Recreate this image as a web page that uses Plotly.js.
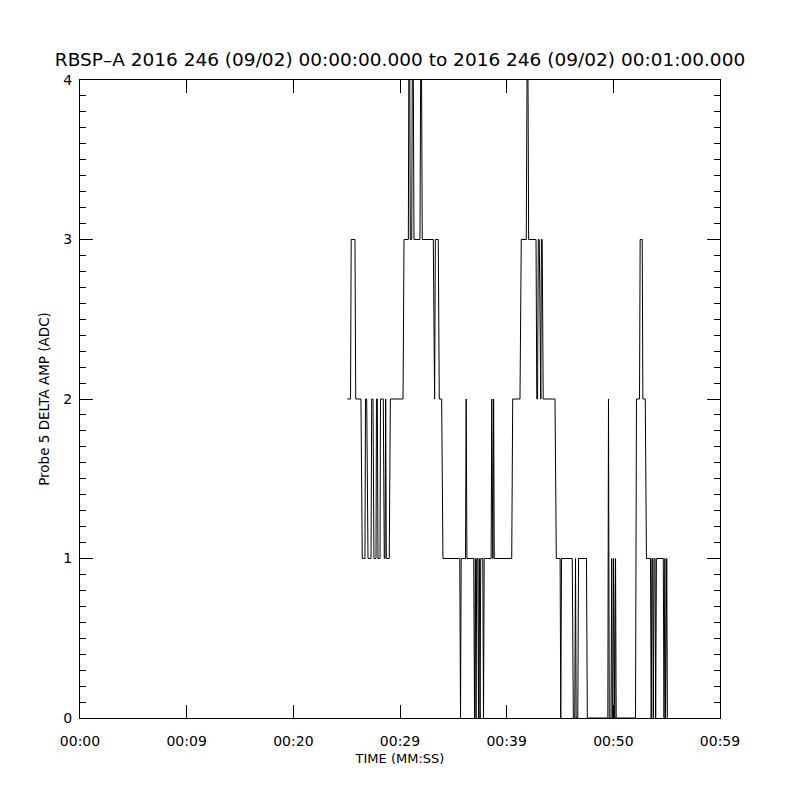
<!DOCTYPE html>
<html>
<head>
<meta charset="utf-8">
<script src="https://cdn.plot.ly/plotly-3.0.1.min.js"></script>
<style>html,body{margin:0;padding:0;background:#fff;}#chart{width:800px;height:800px;}</style>
</head>
<body>
<div id="chart"></div>
<script>
// Vertices of the probe trace (time in seconds, amplitude in ADC)
const timeSec = [
  24.64,24.94,25.00,25.35,25.42,25.90,26.02,26.27,26.32,26.43,26.55,26.83,26.89,27.01,27.10,27.29,27.33,27.41,27.47,27.66,27.70,27.96,28.05,28.12,28.18,28.24,28.51,28.61,29.78,29.87,30.27,30.31,30.40,30.45,30.58,30.63,30.73,30.79,31.34,31.40,31.49,31.55,32.57,32.65,32.69,32.76,33.03,33.12,33.34,33.46,
  35.01,35.08,35.14,
  35.54,35.60,35.67,
  36.30,36.37,36.43,
  36.45,36.51,36.57,
  36.67,36.74,36.80,
  36.82,36.88,36.94,
  37.13,37.20,37.26,
  37.90,37.96,38.03,
  38.06,38.13,38.19,
  39.80,39.89,40.56,40.68,41.14,41.21,41.30,41.36,42.04,42.11,42.18,42.25,42.34,42.42,42.48,42.54,42.61,42.70,43.79,43.91,
  44.26,44.32,44.39,
  45.38,45.48,
  45.61,45.68,45.74,
  45.89,45.96,46.69,46.77,
  48.66,48.72,48.79,
  48.95,49.02,49.08,
  49.13,49.19,49.26,
  49.30,49.37,49.43,
  51.21,51.30,51.58,51.64,51.83,51.89,52.11,52.22,
  52.59,52.66,52.72,
  52.79,52.85,52.92,
  53.01,53.07,53.14,
  53.77,53.84,53.90,
  53.92,53.98,54.04,
  54.09,54.15
];
const ampADC = [
  2,2,3,3,2,2,1,1,2,2,1,1,2,2,1,1,2,2,1,1,2,2,1,1,2,1,1,2,2,3,3,4,4,3,3,4,4,3,3,4,4,3,3,2,2,3,3,2,2,1,
  1,0,1,
  1,2,1,
  1,0,1,
  1,0,1,
  1,0,1,
  1,0,1,
  1,0,1,
  1,2,1,
  1,2,1,
  1,2,2,3,3,4,4,3,3,2,2,3,3,2,2,3,3,2,2,1,
  1,0,1,
  1,0,
  0,1,0,
  0,1,1,0,
  0,2,0,
  0,1,0,
  0,1,0,
  0,1,0,
  0,2,2,3,3,2,2,1,
  1,0,1,
  1,0,1,
  1,0,1,
  1,0,1,
  1,0,1,
  1,0
];

const xTickVals = [0, 9.83, 19.67, 29.5, 39.33, 49.17, 59];
const xTickText = ['00:00','00:09','00:20','00:29','00:39','00:50','00:59'];
const yTickVals = [0, 1, 2, 3, 4];
const yTickText = ['0','1','2','3','4'];

const titleText = 'RBSP\u2013A 2016 246 (09/02) 00:00:00.000 to 2016 246 (09/02) 00:01:00.000';
const xTitle = 'TIME (MM:SS)';
const yTitle = 'Probe 5 DELTA AMP (ADC)';

const FONT = 'DejaVu Sans, sans-serif';

const trace = {
  x: timeSec, y: ampADC, type: 'scatter', mode: 'lines',
  line: {color: '#000', width: 1, shape: 'linear'},
  hoverinfo: 'skip'
};

const layout = {
  width: 800, height: 800,
  paper_bgcolor: '#fff', plot_bgcolor: '#fff',
  margin: {l: 80, r: 80, t: 80, b: 82},
  showlegend: false,
  font: {family: FONT, color: '#000', size: 14},
  title: {text: titleText, font: {family: FONT, size: 18.5, color: '#000'},
          x: 0.5, xanchor: 'center', xref: 'container', y: 1 - 60/800, yanchor: 'middle', yref: 'container'},
  xaxis: {
    range: [0, 59], tickmode: 'array', tickvals: xTickVals, ticktext: xTickText,
    ticks: 'inside', ticklen: 13, tickwidth: 1, tickcolor: '#000',
    showline: true, linecolor: '#000', linewidth: 1, mirror: 'ticks',
    showgrid: false, zeroline: false, ticklabelstandoff: 10,
    tickfont: {family: FONT, size: 14, color: '#000'},
    title: {text: xTitle, font: {family: FONT, size: 13, color: '#000'}, standoff: 6}
  },
  yaxis: {
    range: [0, 4], tickmode: 'array', tickvals: yTickVals, ticktext: yTickText,
    ticks: 'inside', ticklen: 13, tickwidth: 1, tickcolor: '#000',
    minor: {ticks: 'inside', ticklen: 6, dtick: 0.1, tickcolor: '#000', tickwidth: 1, showgrid: false},
    showline: true, linecolor: '#000', linewidth: 1, mirror: 'ticks',
    showgrid: false, zeroline: false, ticklabelstandoff: 4,
    tickfont: {family: FONT, size: 14, color: '#000'},
    title: {text: yTitle, font: {family: FONT, size: 13.5, color: '#000'}, standoff: 10}
  }
};

Plotly.newPlot('chart', [trace], layout, {staticPlot: true, displayModeBar: false});
</script>
</body>
</html>
